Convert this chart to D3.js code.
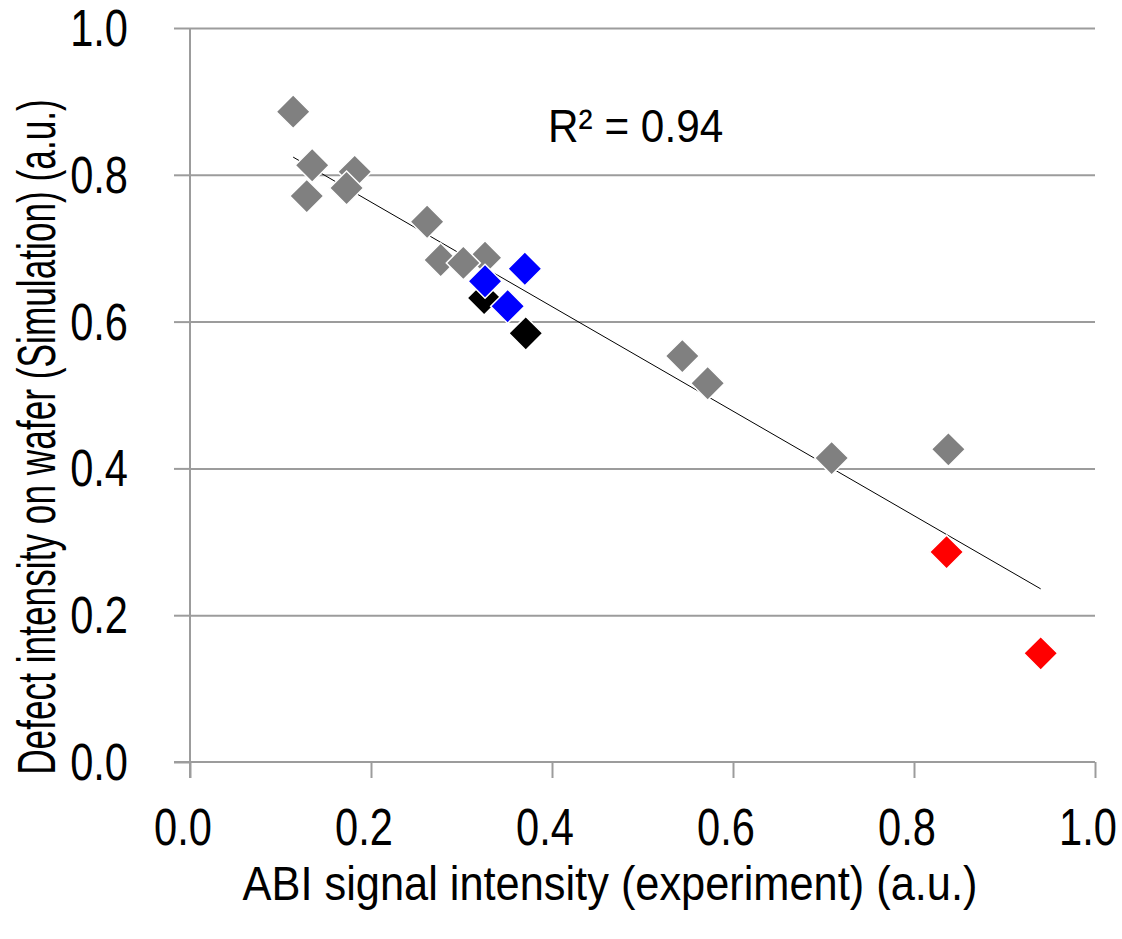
<!DOCTYPE html>
<html>
<head>
<meta charset="utf-8">
<script src="https://cdn.jsdelivr.net/npm/d3@7"></script>
<style>
  body { margin: 0; background: #fff; }
  text { font-family: "Liberation Sans", Arial, sans-serif; fill: #000; }
</style>
</head>
<body>
<div id="chart"></div>
<script>
// series: [x, y]
var grayPoints = [
  [0.114, 0.886], [0.135, 0.813], [0.129, 0.771], [0.182, 0.804], [0.173, 0.782],
  [0.262, 0.736], [0.277, 0.684], [0.326, 0.687], [0.302, 0.680],
  [0.544, 0.553], [0.572, 0.516], [0.709, 0.414], [0.838, 0.426]
]
var blackPoints = [[0.325, 0.632], [0.371, 0.584]]
var bluePoints = [[0.326, 0.655], [0.370, 0.672], [0.351, 0.621]]
var redPoints = [[0.836, 0.286], [0.940, 0.148]]

var seriesColors = ['#808080', '#000000', '#0000ff', '#ff0000']
var xTicks = [0, 0.2, 0.4, 0.6, 0.8, 1.0]
var yTicks = [0, 0.2, 0.4, 0.6, 0.8, 1.0]
var rSquaredLabel = 'R² = 0.94'
var xTitle = 'ABI signal intensity (experiment) (a.u.)'
var yTitle = 'Defect intensity on wafer (Simulation) (a.u.)'

var W = 1122, H = 939
var plotLeft = 190, plotRight = 1095, plotTop = 28, plotBottom = 762

var svg = d3.select('#chart').append('svg')
  .attr('width', W)
  .attr('height', H)

var x = d3.scaleLinear().domain([0, 1]).range([plotLeft, plotRight])
var y = d3.scaleLinear().domain([0, 1]).range([plotBottom, plotTop])

var gridColor = '#9c9c9c'

// horizontal grid lines
svg.append('g')
  .attr('transform', 'translate(' + plotLeft + ',0)')
  .call(d3.axisLeft(y).tickValues(yTicks.slice(1)).tickSize(-(plotRight - plotLeft)).tickFormat(''))
  .call(function (g) {
    g.select('.domain').remove()
    g.selectAll('line').attr('stroke', gridColor).attr('stroke-width', 2)
  })

// left ticks and axis line
svg.append('g')
  .attr('transform', 'translate(' + plotLeft + ',0)')
  .call(d3.axisLeft(y).tickValues(yTicks).tickSize(16).tickSizeOuter(0).tickFormat(''))
  .call(function (g) {
    g.select('.domain').attr('stroke', gridColor).attr('stroke-width', 2)
      .attr('d', 'M0,' + plotTop + 'V' + (plotBottom + 16))
    g.selectAll('line').attr('stroke', gridColor).attr('stroke-width', 2)
  })

// bottom axis
svg.append('g')
  .attr('transform', 'translate(0,' + plotBottom + ')')
  .call(d3.axisBottom(x).tickValues(xTicks).tickSize(16).tickSizeOuter(0).tickFormat(''))
  .call(function (g) {
    g.select('.domain').attr('stroke', gridColor).attr('stroke-width', 2)
      .attr('d', 'M' + (plotLeft - 16) + ',0H' + plotRight)
    g.selectAll('line').attr('stroke', gridColor).attr('stroke-width', 2)
  })

// tick labels (narrow-looking font, so squeeze horizontally)
svg.append('g').selectAll('text')
  .data(yTicks)
  .join('text')
  .attr('transform', function (d) { return 'translate(128,' + (y(d) + 18) + ') scale(0.8,1)' })
  .attr('text-anchor', 'end')
  .attr('font-size', 52)
  .text(function (d) { return d.toFixed(1) })

svg.append('g').selectAll('text')
  .data(xTicks)
  .join('text')
  .attr('transform', function (d) { return 'translate(' + (x(d) - 7) + ',845) scale(0.8,1)' })
  .attr('text-anchor', 'middle')
  .attr('font-size', 52)
  .text(function (d) { return d.toFixed(1) })

// axis titles
svg.append('text')
  .attr('transform', 'translate(610,900) scale(0.885,1)')
  .attr('text-anchor', 'middle')
  .attr('font-size', 49)
  .text(xTitle)

svg.append('text')
  .attr('transform', 'translate(55,437) rotate(-90) scale(0.665,1)')
  .attr('text-anchor', 'middle')
  .attr('font-size', 53)
  .text(yTitle)

// linear trend over all points
var allPoints = grayPoints.concat(blackPoints, bluePoints, redPoints)
var mx = d3.mean(allPoints, function (p) { return p[0] })
var my = d3.mean(allPoints, function (p) { return p[1] })
var sxy = d3.sum(allPoints, function (p) { return (p[0] - mx) * (p[1] - my) })
var sxx = d3.sum(allPoints, function (p) { return (p[0] - mx) * (p[0] - mx) })
var slope = sxy / sxx
var intercept = my - slope * mx
var xExt = d3.extent(allPoints, function (p) { return p[0] })

svg.append('line')
  .attr('x1', x(xExt[0]))
  .attr('y1', y(intercept + slope * xExt[0]))
  .attr('x2', x(xExt[1]))
  .attr('y2', y(intercept + slope * xExt[1]))
  .attr('stroke', '#000')
  .attr('stroke-width', 1)

// markers
var diamond = d3.symbol().type(d3.symbolSquare).size(578)
var series = [grayPoints, blackPoints, bluePoints, redPoints]
series.forEach(function (pts, i) {
  svg.append('g').selectAll('path')
    .data(pts)
    .join('path')
    .attr('d', diamond)
    .attr('transform', function (d) { return 'translate(' + x(d[0]) + ',' + y(d[1]) + ') rotate(45)' })
    .attr('fill', seriesColors[i])
    .attr('stroke', '#fff')
    .attr('stroke-width', 1.5)
})

svg.append('text')
  .attr('transform', 'translate(548,142) scale(0.92,1)')
  .attr('font-size', 46)
  .text(rSquaredLabel)
</script>
</body>
</html>
